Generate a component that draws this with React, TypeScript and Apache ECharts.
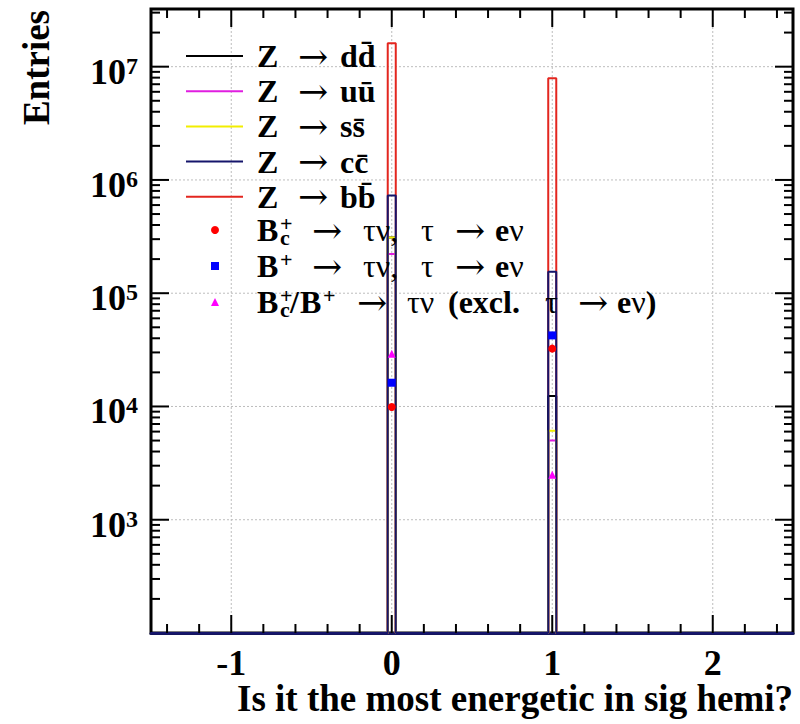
import { useEffect, useRef } from 'react';
import * as echarts from 'echarts';

// ---------- axis ranges ----------
const X_MIN = -1.5;
const X_MAX = 2.5;
const Y_MIN = 100;
const Y_MAX = 3.23e7;

// ---------- histogram binning ----------
const BIN_WIDTH = 0.05;
const BIN_CENTERS = [0, 1];

// ---------- histogram series (entries per non-empty bin) ----------
const HIST_DD = [3.1e5, 1.24e4];
const HIST_UU = [2.22e5, 5.0e3];
const HIST_SS = [3.11e5, 6.1e3];
const HIST_CC = [7.3e5, 1.55e5];
const HIST_BB = [1.61e7, 7.9e6];

// ---------- signal markers ----------
const SIG_BC = [9.9e3, 3.24e4];
const SIG_BU = [1.62e4, 4.24e4];
const SIG_EXCL = [2.92e4, 2.5e3];

// ---------- ticks / labels ----------
const X_LABELS = [-1, 0, 1, 2];
const X_MINOR = [-1.4, -1.2, -0.8, -0.6, -0.4, -0.2, 0.2, 0.4, 0.6, 0.8, 1.2, 1.4, 1.6, 1.8, 2.2, 2.4];
const Y_EXPONENTS = [3, 4, 5, 6, 7];
const Y_MAJOR = [1e3, 1e4, 1e5, 1e6, 1e7];
const Y_MINOR_MANTISSAS = [2, 3, 4, 5, 6, 7, 8, 9];
const Y_MINOR_DECADES = [1e2, 1e3, 1e4, 1e5, 1e6, 1e7];

const NAMES = ['Z → dd̄', 'Z → uū', 'Z → ss̄', 'Z → cc̄', 'Z → bb̄'];
const QUARKS = ['dd̄', 'uū', 'ss̄', 'cc̄', 'bb̄'];
const SIG_NAMES = ['Bc+ → τν, τ → eν', 'B+ → τν, τ → eν', 'Bc+/B+ → τν (excl. τ → eν)'];

const COLORS = {
  dd: '#000000',
  uu: '#e01ee0',
  ss: '#f2ee00',
  cc: '#15156b',
  bb: '#e3261f',
  bc: '#ff0000',
  bu: '#0000ff',
  excl: '#ff00ff',
};

const FONT = "'Liberation Serif', 'Times New Roman', serif";
const ARROW_FONT = "'DejaVu Serif', 'Liberation Serif', serif";

function histPoints(values: number[]): number[][] {
  const pts: number[][] = [[X_MIN, Y_MIN]];
  BIN_CENTERS.forEach((c, i) => {
    const l = c - BIN_WIDTH / 2;
    const r = c + BIN_WIDTH / 2;
    pts.push([l, Y_MIN], [l, values[i]], [r, values[i]], [r, Y_MIN]);
  });
  pts.push([X_MAX, Y_MIN]);
  return pts;
}

// ---------- rich text for legends ----------
const RICH_BASE: Record<string, any> = {
  zsp: { fontSize: 32, lineHeight: 35 },
  zb: { fontFamily: FONT, fontWeight: 'bold', fontSize: 32, lineHeight: 35, color: '#000' },
  za: { fontFamily: ARROW_FONT, fontWeight: 'normal', fontSize: 36, lineHeight: 35, color: '#000' },
  sp: { fontSize: 32, lineHeight: 36 },
  b: { fontFamily: FONT, fontWeight: 'bold', fontSize: 32, lineHeight: 36, color: '#000' },
  s: { fontFamily: FONT, fontWeight: 'normal', fontSize: 32, lineHeight: 36, color: '#000' },
  a: { fontFamily: ARROW_FONT, fontWeight: 'normal', fontSize: 36, lineHeight: 36, color: '#000' },
  sup: { fontFamily: FONT, fontWeight: 'bold', fontSize: 22, lineHeight: 4, verticalAlign: 'top', color: '#000' },
  sub: { fontFamily: FONT, fontWeight: 'bold', fontSize: 22, lineHeight: 28, verticalAlign: 'bottom', color: '#000' },
};
const legendRich: Record<string, any> = {};
function tok(text: string, kind: string, width?: number): string {
  const key = kind + (width === undefined ? '' : 'w' + width);
  if (!legendRich[key]) {
    legendRich[key] = { ...RICH_BASE[kind], ...(width !== undefined ? { width } : {}) };
  }
  return `{${key}|${text}}`;
}

const Z_LABELS: Record<string, string> = {};
NAMES.forEach((n, i) => {
  Z_LABELS[n] = tok(' ', 'zsp', 9) + tok('Z', 'zb', 41) + tok('→', 'za', 42) + tok(QUARKS[i], 'zb');
});

const TAIL = tok('→', 'a', 51) + tok('τν,', 's', 58) + tok('τ', 's', 34) + tok('→', 'a', 40) + tok('e', 'b') + tok('ν', 's');
const SIG_LABELS: Record<string, string> = {
  [SIG_NAMES[0]]: tok(' ', 'sp', 33) + tok('B', 'b', 23) + tok('c', 'sub', 0) + tok('+', 'sup', 32) + TAIL,
  [SIG_NAMES[1]]: tok(' ', 'sp', 33) + tok('B', 'b', 23) + tok('+', 'sup', 32) + TAIL,
  [SIG_NAMES[2]]:
    tok(' ', 'sp', 33) + tok('B', 'b', 23) + tok('c', 'sub', 0) + tok('+', 'sup', 10) + tok('/', 'b', 10) +
    tok('B', 'b', 23) + tok('+', 'sup', 34) + tok('→', 'a', 50) + tok('τν', 's', 41) + tok('(excl.', 'b', 97) +
    tok('τ', 's', 33) + tok('→', 'a', 39) + tok('e', 'b') + tok('ν', 's') + tok(')', 'b'),
};

const TITLE_GRAPHICS = [
  {
    type: 'text',
    x: 36,
    y: 10,
    rotation: Math.PI / 2,
    style: {
      text: 'Entries',
      fontFamily: FONT,
      fontWeight: 'bold',
      fontSize: 37,
      fill: '#000',
      align: 'right',
      verticalAlign: 'middle',
    },
  },
  {
    type: 'text',
    x: 793,
    y: 698,
    style: {
      text: 'Is it the most energetic in sig hemi?',
      fontFamily: FONT,
      fontWeight: 'bold',
      fontSize: 37,
      fill: '#000',
      align: 'right',
      verticalAlign: 'middle',
    },
  },
];

export default function App() {
  const ref = useRef<HTMLDivElement>(null);

  useEffect(() => {
    if (!ref.current) return;
    const chart = echarts.init(ref.current, undefined, { renderer: 'svg' });

    const histSeries = (name: string, values: number[], color: string) => ({
      name,
      type: 'line',
      data: histPoints(values),
      showSymbol: false,
      symbol: 'none',
      clip: false,
      color,
      itemStyle: { color },
      lineStyle: { color, width: 2 },
      z: 3,
    });

    const sigSeries = (name: string, values: number[], color: string, symbol: string, size: number) => ({
      name,
      type: 'scatter',
      data: BIN_CENTERS.map((c, i) => [c, values[i]]),
      symbol,
      symbolSize: size,
      color,
      itemStyle: { color, opacity: 1 },
      z: 5,
    });

    const option: any = {
      animation: false,
      backgroundColor: '#ffffff',
      grid: {
        left: 151,
        right: 7,
        top: 9,
        bottom: 91,
        show: true,
        borderColor: '#000',
        borderWidth: 3,
        backgroundColor: 'transparent',
      },
      xAxis: {
        type: 'value',
        min: X_MIN,
        max: X_MAX,
        interval: 0.5,
        axisLine: { show: true, onZero: false, lineStyle: { color: '#15155e', width: 3 } },
        axisTick: { show: false },
        splitLine: { show: false },
        axisLabel: {
          margin: 12,
          fontFamily: FONT,
          fontWeight: 'bold',
          fontSize: 36,
          color: '#000',
          formatter: (v: number) => (X_LABELS.some((l) => Math.abs(l - v) < 1e-9) ? String(Math.round(v)) : ''),
        },
      },
      yAxis: {
        type: 'log',
        logBase: 10,
        min: Y_MIN,
        max: Y_MAX,
        axisLine: { show: false },
        axisTick: { show: false },
        splitLine: { show: false },
        axisLabel: {
          margin: 13,
          padding: [10, 0, 0, 0],
          fontFamily: FONT,
          fontWeight: 'bold',
          fontSize: 36,
          color: '#000',
          formatter: (v: number) => {
            const lg = Math.log10(v);
            const e = Math.round(lg);
            if (Math.abs(lg - e) > 1e-6 || !Y_EXPONENTS.includes(e)) return '';
            return `{b|10}{s|${e}}`;
          },
          rich: {
            b: { fontFamily: FONT, fontWeight: 'bold', fontSize: 36, lineHeight: 36, color: '#000' },
            s: { fontFamily: FONT, fontWeight: 'bold', fontSize: 24, lineHeight: 13, verticalAlign: 'top', color: '#000' },
          },
        },
      },
      legend: [
        {
          data: NAMES.map((n) => ({ name: n, icon: 'rect' })),
          orient: 'vertical',
          left: 186,
          top: 38,
          padding: 0,
          itemGap: -0.8,
          itemWidth: 57,
          itemHeight: 2,
          selectedMode: false,
          formatter: (name: string) => Z_LABELS[name],
          textStyle: { color: '#000', fontFamily: FONT, fontSize: 32, rich: legendRich },
        },
        {
          data: [
            { name: SIG_NAMES[0], icon: 'circle' },
            { name: SIG_NAMES[1], icon: 'rect' },
            { name: SIG_NAMES[2], icon: 'triangle' },
          ],
          orient: 'vertical',
          left: 211,
          top: 212,
          padding: 0,
          itemGap: 0,
          itemWidth: 8,
          itemHeight: 8,
          selectedMode: false,
          formatter: (name: string) => SIG_LABELS[name],
          textStyle: { color: '#000', fontFamily: FONT, fontSize: 32, rich: legendRich },
        },
      ],
      graphic: TITLE_GRAPHICS,
      series: [
        histSeries(NAMES[4], HIST_BB, COLORS.bb),
        histSeries(NAMES[0], HIST_DD, COLORS.dd),
        histSeries(NAMES[1], HIST_UU, COLORS.uu),
        histSeries(NAMES[2], HIST_SS, COLORS.ss),
        histSeries(NAMES[3], HIST_CC, COLORS.cc),
        sigSeries(SIG_NAMES[0], SIG_BC, COLORS.bc, 'circle', 8),
        sigSeries(SIG_NAMES[1], SIG_BU, COLORS.bu, 'rect', 8),
        sigSeries(SIG_NAMES[2], SIG_EXCL, COLORS.excl, 'triangle', 8),
      ],
    };

    chart.setOption(option);

    // Grid lines and ROOT-style ticks on all four sides, placed through the axes' own scales
    const px = (x: number, y: number): number[] =>
      chart.convertToPixel({ gridIndex: 0 } as any, [x, y]) as unknown as number[];

    const tickStyle = { stroke: '#000', lineWidth: 2 };
    const gridStyle = { stroke: '#bdbdbd', lineWidth: 1, lineDash: [2, 2] };
    const lines: any[] = [];

    X_LABELS.forEach((x) => {
      const b = px(x, Y_MIN);
      const t = px(x, Y_MAX);
      lines.push({ type: 'line', z: 1, silent: true, shape: { x1: b[0], y1: b[1], x2: t[0], y2: t[1] }, style: gridStyle });
    });
    Y_MAJOR.forEach((y) => {
      const l = px(X_MIN, y);
      const r = px(X_MAX, y);
      lines.push({ type: 'line', z: 1, silent: true, shape: { x1: l[0], y1: l[1], x2: r[0], y2: r[1] }, style: gridStyle });
    });

    const xTick = (x: number, len: number) => {
      const b = px(x, Y_MIN);
      const t = px(x, Y_MAX);
      lines.push({ type: 'line', z: 10, silent: true, shape: { x1: b[0], y1: b[1], x2: b[0], y2: b[1] - len }, style: tickStyle });
      lines.push({ type: 'line', z: 10, silent: true, shape: { x1: t[0], y1: t[1], x2: t[0], y2: t[1] + len }, style: tickStyle });
    };
    const yTick = (y: number, len: number) => {
      const l = px(X_MIN, y);
      const r = px(X_MAX, y);
      lines.push({ type: 'line', z: 10, silent: true, shape: { x1: l[0], y1: l[1], x2: l[0] + len, y2: l[1] }, style: tickStyle });
      lines.push({ type: 'line', z: 10, silent: true, shape: { x1: r[0], y1: r[1], x2: r[0] - len, y2: r[1] }, style: tickStyle });
    };
    X_LABELS.forEach((x) => xTick(x, 18));
    X_MINOR.forEach((x) => xTick(x, 9));
    Y_MAJOR.forEach((y) => yTick(y, 18));
    Y_MINOR_DECADES.forEach((d) =>
      Y_MINOR_MANTISSAS.forEach((m) => {
        if (m * d <= Y_MAX) yTick(m * d, 9);
      }),
    );

    chart.setOption({ graphic: [...TITLE_GRAPHICS, ...lines] }, { replaceMerge: ['graphic'] } as any);

    return () => chart.dispose();
  }, []);

  return (
    <div
      ref={ref}
      style={{ position: 'fixed', left: 0, top: 0, width: 800, height: 724, background: '#fff' }}
    />
  );
}
